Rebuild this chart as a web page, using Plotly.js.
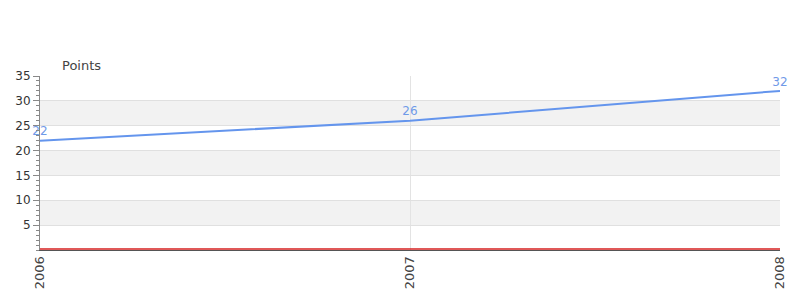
<!DOCTYPE html>
<html>
<head>
<meta charset="utf-8">
<script src="https://cdn.plot.ly/plotly-3.0.1.min.js"></script>
<style>
  html, body { margin: 0; padding: 0; background: #fff; }
  #chart { width: 800px; height: 300px; }
</style>
</head>
<body>
<div id="chart"></div>
<script>
// Yearly points
const years = [2006, 2007, 2008];
const points = [22, 26, 32];
const yearLabels = ['2006', '2007', '2008'];

// Y axis ticks and shaded bands
const yTicks = [5, 10, 15, 20, 25, 30, 35];
const bands = [[5, 10], [15, 20], [25, 30]];
const baseline = 0;

const lineColor = '#6495ED';
const font = 'DejaVu Sans, Verdana, sans-serif';

const shapes = bands.map(([lo, hi]) => ({
  type: 'rect', xref: 'paper', yref: 'y', x0: 0, x1: 1, y0: lo, y1: hi,
  fillcolor: '#f2f2f2', line: { width: 0 }, layer: 'below'
}));
// red baseline resting on the x axis line
shapes.push({
  type: 'line', xref: 'paper', yref: 'y', x0: 0, x1: 1,
  ysizemode: 'pixel', yanchor: baseline, y0: 1, y1: 1,
  line: { color: '#d62020', width: 1.5 }, layer: 'above'
});

const trace = {
  x: years,
  y: points,
  type: 'scatter',
  mode: 'lines+markers+text',
  text: points.map(String),
  textposition: 'top center',
  textfont: { family: font, size: 12, color: '#6f9ae8' },
  line: { color: lineColor, width: 2 },
  marker: { size: 2, color: lineColor, opacity: 0 },
  cliponaxis: false,
  hoverinfo: 'x+y'
};

const layout = {
  width: 800,
  height: 300,
  margin: { l: 40, r: 20, t: 76, b: 50 },
  paper_bgcolor: '#ffffff',
  plot_bgcolor: '#ffffff',
  showlegend: false,
  font: { family: font, size: 12, color: '#333' },
  xaxis: {
    type: 'linear',
    range: [2006, 2008],
    tickvals: years,
    ticktext: yearLabels,
    tickangle: -90,
    showgrid: true,
    gridcolor: '#e3e3e3',
    zeroline: false,
    showline: true,
    linecolor: '#555',
    linewidth: 1,
    ticks: '',
    tickfont: { family: font, size: 13, color: '#444' },
    fixedrange: true
  },
  yaxis: {
    range: [0, 35],
    tickvals: yTicks,
    showgrid: true,
    gridcolor: '#e0e0e0',
    zeroline: false,
    showline: true,
    linecolor: '#888',
    linewidth: 1,
    ticks: 'outside',
    ticklen: 6,
    tickcolor: '#888',
    minor: { dtick: 1, ticks: 'outside', ticklen: 3, tickcolor: '#888', showgrid: false },
    tickfont: { family: font, size: 12, color: '#333' },
    fixedrange: true
  },
  shapes: shapes,
  annotations: [{
    text: 'Points', xref: 'paper', yref: 'paper', x: 0.027, y: 1.0,
    xanchor: 'left', yanchor: 'bottom', yshift: 1, showarrow: false,
    font: { family: font, size: 13, color: '#444' }
  }]
};

Plotly.newPlot('chart', [trace], layout, { displayModeBar: false, staticPlot: true });
</script>
</body>
</html>
